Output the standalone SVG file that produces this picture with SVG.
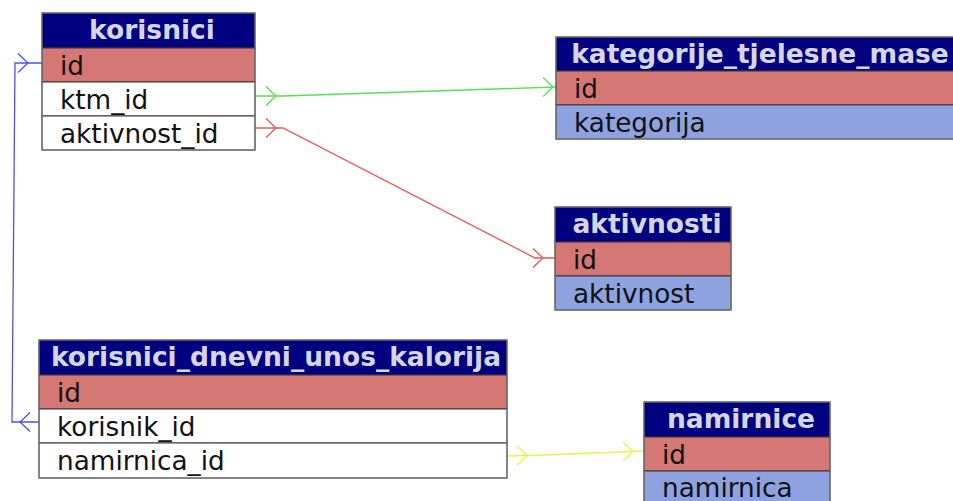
<svg xmlns="http://www.w3.org/2000/svg" xmlns:xlink="http://www.w3.org/1999/xlink" width="953" height="501" viewBox="0 0 953 501">
<defs>
<style>
.hd{fill:#000080;stroke:#333;stroke-width:1}
.ht{font-family:"DejaVu Sans",sans-serif;font-weight:bold;font-size:26.5px;fill:#d6d6e2;text-anchor:middle}
.pk{fill:#d47775;stroke:#333;stroke-width:1}
.fk{fill:#ffffff;stroke:#333;stroke-width:1}
.at{fill:#8ea2df;stroke:#333;stroke-width:1}
.rt{font-family:"DejaVu Sans",sans-serif;font-size:26.3px;fill:#111}
.ob{fill:none;stroke:#777;stroke-width:1.2}
.cn{fill:none;stroke-width:1.3}
.g{stroke:#55e055}
.r{stroke:#e85858}
.b{stroke:#5050dd}
.y{stroke:#eeee50}
</style>
<path id="ah" d="M-10,-9.5 L0,0 L-10,9.5" fill="none" stroke-width="1.3"/>
</defs>
<rect width="953" height="501" fill="#ffffff"/>

<g id="connectors">
<g>
<polyline class="cn b" points="42,63 15,63 12,422 39,422"/>
<use xlink:href="#ah" href="#ah" stroke="#5050dd" transform="translate(28,63)"/>
<use xlink:href="#ah" href="#ah" stroke="#5050dd" transform="translate(20,422) rotate(180)"/>
</g>
<g>
<polyline class="cn g" points="255,96 283,96 556,87"/>
<use xlink:href="#ah" href="#ah" stroke="#55e055" transform="translate(276,96)"/>
<use xlink:href="#ah" href="#ah" stroke="#55e055" transform="translate(553,87)"/>
</g>
<g>
<polyline class="cn r" points="255,128 283,128 535,258 555,258"/>
<use xlink:href="#ah" href="#ah" stroke="#e85858" transform="translate(276,128)"/>
<use xlink:href="#ah" href="#ah" stroke="#e85858" transform="translate(543,258)"/>
</g>
<g>
<polyline class="cn y" points="507,456 530,455.5 644,451"/>
<use xlink:href="#ah" href="#ah" stroke="#eeee50" transform="translate(527,455.5)"/>
<use xlink:href="#ah" href="#ah" stroke="#eeee50" transform="translate(633,451.5)"/>
</g>
</g>

<g id="korisnici">
<rect class="hd" x="42" y="13" width="213" height="35"/>
<text class="ht" x="152" y="39">korisnici</text>
<rect class="pk" x="42" y="48" width="213" height="34"/>
<text class="rt" x="60" y="75">id</text>
<rect class="fk" x="42" y="82" width="213" height="34"/>
<text class="rt" x="60" y="109">ktm_id</text>
<rect class="fk" x="42" y="116" width="213" height="34"/>
<text class="rt" x="60" y="143">aktivnost_id</text>
<rect class="ob" x="42" y="13" width="213" height="137"/>
</g>

<g id="kategorije_tjelesne_mase">
<rect class="hd" x="556" y="37" width="404" height="34"/>
<text class="ht" x="760" y="63">kategorije_tjelesne_mase</text>
<rect class="pk" x="556" y="71" width="404" height="34"/>
<text class="rt" x="574" y="98">id</text>
<rect class="at" x="556" y="105" width="404" height="34"/>
<text class="rt" x="574" y="132">kategorija</text>
<rect class="ob" x="556" y="37" width="404" height="102"/>
</g>

<g id="aktivnosti">
<rect class="hd" x="555" y="207" width="176" height="35"/>
<text class="ht" x="647" y="233">aktivnosti</text>
<rect class="pk" x="555" y="242" width="176" height="34"/>
<text class="rt" x="573" y="269">id</text>
<rect class="at" x="555" y="276" width="176" height="34"/>
<text class="rt" x="573" y="303">aktivnost</text>
<rect class="ob" x="555" y="207" width="176" height="103"/>
</g>

<g id="korisnici_dnevni_unos_kalorija">
<rect class="hd" x="39" y="340" width="468" height="35"/>
<text class="ht" x="276" y="366">korisnici_dnevni_unos_kalorija</text>
<rect class="pk" x="39" y="375" width="468" height="34"/>
<text class="rt" x="57" y="402">id</text>
<rect class="fk" x="39" y="409" width="468" height="34"/>
<text class="rt" x="57" y="436">korisnik_id</text>
<rect class="fk" x="39" y="443" width="468" height="35"/>
<text class="rt" x="57" y="470">namirnica_id</text>
<rect class="ob" x="39" y="340" width="468" height="138"/>
</g>

<g id="namirnice">
<rect class="hd" x="644" y="402" width="186" height="35"/>
<text class="ht" x="741" y="428">namirnice</text>
<rect class="pk" x="644" y="437" width="186" height="34"/>
<text class="rt" x="662" y="464">id</text>
<rect class="at" x="644" y="471" width="186" height="34"/>
<text class="rt" x="662" y="497">namirnica</text>
<rect class="ob" x="644" y="402" width="186" height="103"/>
</g>
</svg>
